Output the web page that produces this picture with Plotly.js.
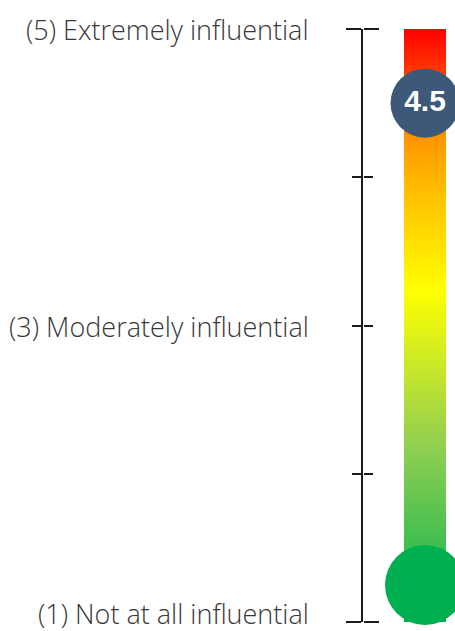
<!DOCTYPE html>
<html>
<head>
<meta charset="utf-8">
<script src="https://cdn.plot.ly/plotly-3.0.1.min.js"></script>
<style>html,body{margin:0;padding:0;background:#fff;}#chart{width:455px;height:631px;}</style>
</head>
<body>
<div id="chart"></div>
<script>
// ---- data ----
const scaleValues = [1, 2, 3, 4, 5];
const labeledValues = [1, 3, 5];
const labelTexts = ['(1) Not at all influential', '(3) Moderately influential', '(5) Extremely influential'];
const endValues = [1, 5];
const innerValues = [2, 3, 4];
const scoreValue = [4.5];
const scoreText = ['4.5'];

// ---- styles ----
const axisColor = '#1a1a1a';
const scaleMin = Math.min(...scaleValues);
const scaleMax = Math.max(...scaleValues);
const barHalf = 21;
const labelFont = {family: 'Open Sans, Liberation Sans, sans-serif', size: 27, color: '#383838', weight: 300};

const traces = [
  {
    type: 'scatter', mode: 'lines', fill: 'toself',
    x: [-barHalf, barHalf, barHalf, -barHalf, -barHalf],
    y: [scaleMin, scaleMin, scaleMax, scaleMax, scaleMin],
    line: {width: 0, color: 'rgba(0,0,0,0)'},
    fillgradient: {
      type: 'vertical',
      colorscale: [
        [0, '#00b050'],
        [0.3, '#92d050'],
        [0.56, '#ffff00'],
        [0.75, '#ffb400'],
        [0.81, '#ff9800'],
        [1, '#ff0000']
      ]
    },
    hoverinfo: 'skip', showlegend: false
  },
  {
    type: 'scatter', mode: 'markers',
    x: [0], y: [scaleMin + 0.25],
    marker: {size: 80, color: '#00b050', line: {width: 0}},
    cliponaxis: false, hoverinfo: 'skip', showlegend: false
  },
  {
    type: 'scatter', mode: 'markers+text',
    x: [0], y: scoreValue, text: scoreText,
    textposition: 'middle center',
    textfont: {family: 'Liberation Sans, Arial, sans-serif', size: 30, color: '#ffffff', weight: 'bold'},
    marker: {size: 69, color: '#3d5878', line: {width: 0}},
    cliponaxis: false, hoverinfo: 'skip', showlegend: false
  },
  {type: 'scatter', x: [], y: [], yaxis: 'y2', showlegend: false, hoverinfo: 'skip'}
];

// labels: nudged so the bottom label stays inside the picture
const labelShift = {1: 9, 3: -1, 5: 0};
const annotations = labeledValues.map((v, i) => ({
  xref: 'paper', yref: 'y', x: 0, y: v,
  xanchor: 'right', yanchor: 'middle',
  xshift: -52, yshift: labelShift[v],
  text: labelTexts[i], showarrow: false, font: labelFont
}));

const layout = {
  width: 455, height: 631,
  margin: {l: 363, r: 0, t: 29, b: 9, pad: 0},
  paper_bgcolor: '#ffffff', plot_bgcolor: 'rgba(0,0,0,0)',
  showlegend: false,
  annotations: annotations,
  xaxis: {range: [-62, 30], visible: false, fixedrange: true},
  yaxis: {
    range: [scaleMin, scaleMax], fixedrange: true,
    showgrid: false, zeroline: false,
    showline: true, linewidth: 2, linecolor: axisColor,
    showticklabels: false,
    tickmode: 'array', tickvals: endValues,
    ticks: 'outside', ticklen: 15, tickwidth: 2, tickcolor: axisColor,
    minor: {tickmode: 'array', tickvals: innerValues, ticks: 'outside', ticklen: 9, tickwidth: 2, tickcolor: axisColor, showgrid: false}
  },
  yaxis2: {
    overlaying: 'y', anchor: 'free', position: 0, side: 'right',
    range: [scaleMin, scaleMax], fixedrange: true,
    showgrid: false, zeroline: false, showline: false, showticklabels: false,
    tickmode: 'array', tickvals: endValues,
    ticks: 'outside', ticklen: 15, tickwidth: 2, tickcolor: axisColor,
    minor: {tickmode: 'array', tickvals: innerValues, ticks: 'outside', ticklen: 9, tickwidth: 2, tickcolor: axisColor, showgrid: false}
  }
};

Plotly.newPlot('chart', traces, layout, {displayModeBar: false, staticPlot: true});
</script>
</body>
</html>
